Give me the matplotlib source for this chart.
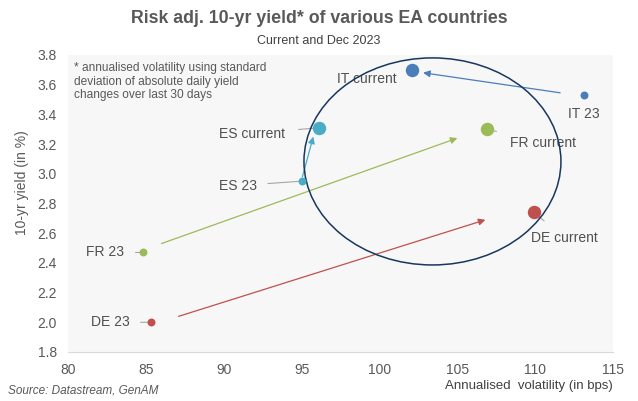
import matplotlib.pyplot as plt
from matplotlib.patches import Ellipse

plt.rcParams['font.family'] = ['Liberation Sans', 'DejaVu Sans']

# --- Data ---
countries = ['IT', 'ES', 'FR', 'DE']
colors = ['#4a7ebb', '#4bacc6', '#9bbb59', '#c0504d']
vol_23 = [113.1, 95.0, 84.8, 85.3]
yld_23 = [3.53, 2.95, 2.47, 2.00]
vol_now = [102.1, 96.1, 106.9, 109.9]
yld_now = [3.70, 3.31, 3.30, 2.74]

# arrows (tail -> head) drawn between the two dates
arrow_from = [(111.6, 3.545), (95.05, 2.98), (86.0, 2.53), (87.1, 2.04)]
arrow_to = [(102.8, 3.68), (95.75, 3.25), (105.0, 3.24), (106.8, 2.69)]

# label positions (data coords)
lab_23 = [(113.1, 3.40), (90.9, 2.92), (82.4, 2.47), (82.7, 2.00)]
lab_now = [(99.2, 3.64), (91.8, 3.27), (110.5, 3.21), (111.9, 2.57)]

fig = plt.figure(figsize=(6.38, 4.01), dpi=100)
ax = fig.add_axes([0.1066, 0.1222, 0.8544, 0.7408])
ax.set_facecolor('#f7f7f7')

ax.set_xlim(80, 115)
ax.set_ylim(1.8, 3.8)
ax.set_xticks(range(80, 116, 5))
ax.set_yticks([1.8 + 0.2 * i for i in range(11)])
ax.set_yticklabels([f'{1.8 + 0.2 * i:.1f}' for i in range(11)])
for s in ['top', 'right', 'left']:
    ax.spines[s].set_visible(False)
ax.spines['bottom'].set_color('#d9d9d9')
ax.tick_params(length=0, labelsize=10, colors='#595959', pad=8)

for i, c in enumerate(countries):
    ax.annotate('', xy=arrow_to[i], xytext=arrow_from[i],
                arrowprops=dict(arrowstyle='-|>', color=colors[i], lw=0.9,
                                mutation_scale=10, shrinkA=0, shrinkB=0))
    ax.scatter(vol_23[i], yld_23[i], s=22, color=colors[i], zorder=4)
    ax.scatter(vol_now[i], yld_now[i], s=75, color=colors[i], zorder=4)
    ax.annotate(f'{c} 23', xy=(vol_23[i], yld_23[i]), xytext=lab_23[i],
                ha='center', va='center', fontsize=10, color='#505050',
                arrowprops=dict(arrowstyle='-', color='#a6a6a6', lw=0.8,
                                shrinkA=6, shrinkB=2))
    ax.annotate(f'{c} current', xy=(vol_now[i], yld_now[i]), xytext=lab_now[i],
                ha='center', va='center', fontsize=10, color='#505050',
                arrowprops=dict(arrowstyle='-', color='#a6a6a6', lw=0.8,
                                shrinkA=8, shrinkB=3))

ell = Ellipse((103.4, 3.083), 16.5, 1.394, fill=False, edgecolor='#17375e',
              lw=1.1, zorder=3)
ax.add_patch(ell)

ax.text(80.4, 3.75, '* annualised volatility using standard\ndeviation of absolute daily yield\nchanges over last 30 days',
        ha='left', va='top', fontsize=8.6, color='#595959', linespacing=1.15)

ax.set_ylabel('10-yr yield (in %)', fontsize=10, color='#595959', labelpad=2)
ax.yaxis.set_label_coords(-0.072, 0.57)

fig.text(0.5, 0.955, 'Risk adj. 10-yr yield* of various EA countries', ha='center',
         va='center', fontsize=12.8, fontweight='bold', color='#595959')
fig.text(0.5, 0.898, 'Current and Dec 2023', ha='center', va='center',
         fontsize=9, color='#404040')
fig.text(0.961, 0.037, 'Annualised  volatility (in bps)', ha='right', va='center',
         fontsize=9.5, color='#404040')
fig.text(0.012, 0.027, 'Source: Datastream, GenAM', ha='left', va='center',
         fontsize=8.5, style='italic', color='#595959')

fig.savefig('out.png', dpi=100)
